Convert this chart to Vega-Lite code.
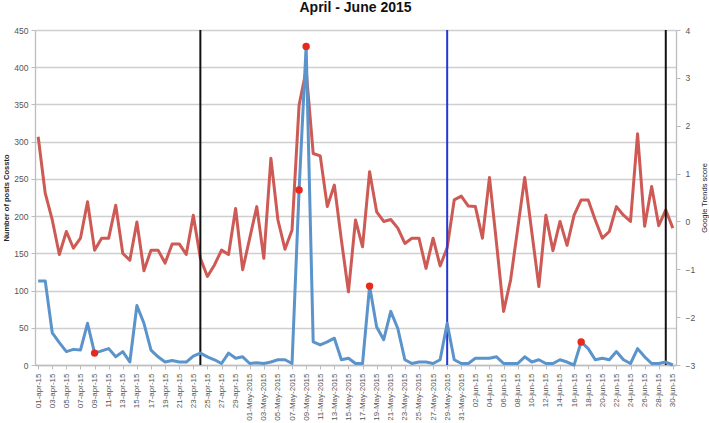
{
  "$schema": "https://vega.github.io/schema/vega-lite/v6.json",
  "width": 641,
  "height": 335,
  "autosize": {"type": "none"},
  "padding": {"left": 35, "top": 30, "right": 33, "bottom": 58},
  "title": {"text": "April - June 2015", "fontSize": 14, "fontWeight": "bold", "font": "Liberation Sans", "color": "#111111", "offset": 11, "anchor": "middle"},
  "config": {
    "font": "Liberation Sans",
    "view": {"stroke": null},
    "axis": {"labelColor": "#555555", "domainColor": "#bdbdbd", "tickColor": "#bdbdbd", "titleColor": "#222222"}
  },
  "datasets": {
    "main": [
      {"d": "01-apr-15", "posts": 113, "trends": 1.77},
      {"d": "02-apr-15", "posts": 113, "trends": 0.59},
      {"d": "03-apr-15", "posts": 43, "trends": 0.03},
      {"d": "04-apr-15", "posts": 30, "trends": -0.69},
      {"d": "05-apr-15", "posts": 18, "trends": -0.21},
      {"d": "06-apr-15", "posts": 21, "trends": -0.56},
      {"d": "07-apr-15", "posts": 20, "trends": -0.35},
      {"d": "08-apr-15", "posts": 56, "trends": 0.41},
      {"d": "09-apr-15", "posts": 16, "trends": -0.60},
      {"d": "10-apr-15", "posts": 19, "trends": -0.35},
      {"d": "11-apr-15", "posts": 22, "trends": -0.35},
      {"d": "12-apr-15", "posts": 11, "trends": 0.34},
      {"d": "13-apr-15", "posts": 18, "trends": -0.67},
      {"d": "14-apr-15", "posts": 4, "trends": -0.81},
      {"d": "15-apr-15", "posts": 80, "trends": -0.01},
      {"d": "16-apr-15", "posts": 56, "trends": -1.03},
      {"d": "17-apr-15", "posts": 20, "trends": -0.60},
      {"d": "18-apr-15", "posts": 11, "trends": -0.60},
      {"d": "19-apr-15", "posts": 4, "trends": -0.87},
      {"d": "20-apr-15", "posts": 6, "trends": -0.47},
      {"d": "21-apr-15", "posts": 4, "trends": -0.47},
      {"d": "22-apr-15", "posts": 4, "trends": -0.69},
      {"d": "23-apr-15", "posts": 12, "trends": 0.13},
      {"d": "24-apr-15", "posts": 16, "trends": -0.77},
      {"d": "25-apr-15", "posts": 11, "trends": -1.15},
      {"d": "26-apr-15", "posts": 7, "trends": -0.91},
      {"d": "27-apr-15", "posts": 2, "trends": -0.60},
      {"d": "28-apr-15", "posts": 16, "trends": -0.69},
      {"d": "29-apr-15", "posts": 9, "trends": 0.27},
      {"d": "30-apr-15", "posts": 11, "trends": -1.01},
      {"d": "01-May-2015", "posts": 2, "trends": -0.35},
      {"d": "02-May-2015", "posts": 3, "trends": 0.31},
      {"d": "03-May-2015", "posts": 2, "trends": -0.77},
      {"d": "04-May-2015", "posts": 4, "trends": 1.32},
      {"d": "05-May-2015", "posts": 7, "trends": 0.03},
      {"d": "06-May-2015", "posts": 7, "trends": -0.58},
      {"d": "07-May-2015", "posts": 2, "trends": -0.18},
      {"d": "08-May-2015", "posts": 235, "trends": 2.43},
      {"d": "09-May-2015", "posts": 428, "trends": 3.16},
      {"d": "10-May-2015", "posts": 31, "trends": 1.42},
      {"d": "11-May-2015", "posts": 27, "trends": 1.37},
      {"d": "12-May-2015", "posts": 31, "trends": 0.31},
      {"d": "13-May-2015", "posts": 36, "trends": 0.76},
      {"d": "14-May-2015", "posts": 7, "trends": -0.39},
      {"d": "15-May-2015", "posts": 9, "trends": -1.47},
      {"d": "16-May-2015", "posts": 2, "trends": 0.03},
      {"d": "17-May-2015", "posts": 2, "trends": -0.53},
      {"d": "18-May-2015", "posts": 106, "trends": 1.04},
      {"d": "19-May-2015", "posts": 51, "trends": 0.20},
      {"d": "20-May-2015", "posts": 34, "trends": 0.00},
      {"d": "21-May-2015", "posts": 72, "trends": 0.04},
      {"d": "22-May-2015", "posts": 49, "trends": -0.14},
      {"d": "23-May-2015", "posts": 7, "trends": -0.46},
      {"d": "24-May-2015", "posts": 2, "trends": -0.35},
      {"d": "25-May-2015", "posts": 4, "trends": -0.35},
      {"d": "26-May-2015", "posts": 4, "trends": -0.98},
      {"d": "27-May-2015", "posts": 2, "trends": -0.35},
      {"d": "28-May-2015", "posts": 7, "trends": -0.93},
      {"d": "29-May-2015", "posts": 56, "trends": -0.55},
      {"d": "30-May-2015", "posts": 7, "trends": 0.45},
      {"d": "31-May-2015", "posts": 2, "trends": 0.53},
      {"d": "01-jun-15", "posts": 2, "trends": 0.32},
      {"d": "02-jun-15", "posts": 9, "trends": 0.31},
      {"d": "03-jun-15", "posts": 9, "trends": -0.35},
      {"d": "04-jun-15", "posts": 9, "trends": 0.92},
      {"d": "05-jun-15", "posts": 11, "trends": -0.46},
      {"d": "06-jun-15", "posts": 2, "trends": -1.88},
      {"d": "07-jun-15", "posts": 2, "trends": -1.22},
      {"d": "08-jun-15", "posts": 2, "trends": -0.15},
      {"d": "09-jun-15", "posts": 11, "trends": 0.92},
      {"d": "10-jun-15", "posts": 4, "trends": -0.22},
      {"d": "11-jun-15", "posts": 7, "trends": -1.36},
      {"d": "12-jun-15", "posts": 2, "trends": 0.13},
      {"d": "13-jun-15", "posts": 2, "trends": -0.61},
      {"d": "14-jun-15", "posts": 7, "trends": 0.0},
      {"d": "15-jun-15", "posts": 4, "trends": -0.5},
      {"d": "16-jun-15", "posts": 0, "trends": 0.13},
      {"d": "17-jun-15", "posts": 31, "trends": 0.45},
      {"d": "18-jun-15", "posts": 22, "trends": 0.45},
      {"d": "19-jun-15", "posts": 7, "trends": 0.03},
      {"d": "20-jun-15", "posts": 9, "trends": -0.35},
      {"d": "21-jun-15", "posts": 7, "trends": -0.21},
      {"d": "22-jun-15", "posts": 18, "trends": 0.31},
      {"d": "23-jun-15", "posts": 7, "trends": 0.13},
      {"d": "24-jun-15", "posts": 2, "trends": 0.0},
      {"d": "25-jun-15", "posts": 22, "trends": 1.83},
      {"d": "26-jun-15", "posts": 11, "trends": -0.10},
      {"d": "27-jun-15", "posts": 2, "trends": 0.73},
      {"d": "28-jun-15", "posts": 2, "trends": -0.09},
      {"d": "29-jun-15", "posts": 4, "trends": 0.24},
      {"d": "30-jun-15", "posts": 0, "trends": -0.14}
    ],
    "rules": [
      {"d": "24-apr-15", "c": "#111111"},
      {"d": "29-May-2015", "c": "#2438d4"},
      {"d": "29-jun-15", "c": "#111111"}
    ],
    "dots": [
      {"d": "09-apr-15", "posts": 16},
      {"d": "08-May-2015", "posts": 235},
      {"d": "09-May-2015", "posts": 428},
      {"d": "18-May-2015", "posts": 106},
      {"d": "17-jun-15", "posts": 31}
    ]
  },
  "encoding": {
    "x": {
      "field": "d",
      "type": "ordinal",
      "sort": null,
      "scale": {
        "type": "point",
        "padding": 0.45,
        "domain": ["01-apr-15","02-apr-15","03-apr-15","04-apr-15","05-apr-15","06-apr-15","07-apr-15","08-apr-15","09-apr-15","10-apr-15","11-apr-15","12-apr-15","13-apr-15","14-apr-15","15-apr-15","16-apr-15","17-apr-15","18-apr-15","19-apr-15","20-apr-15","21-apr-15","22-apr-15","23-apr-15","24-apr-15","25-apr-15","26-apr-15","27-apr-15","28-apr-15","29-apr-15","30-apr-15","01-May-2015","02-May-2015","03-May-2015","04-May-2015","05-May-2015","06-May-2015","07-May-2015","08-May-2015","09-May-2015","10-May-2015","11-May-2015","12-May-2015","13-May-2015","14-May-2015","15-May-2015","16-May-2015","17-May-2015","18-May-2015","19-May-2015","20-May-2015","21-May-2015","22-May-2015","23-May-2015","24-May-2015","25-May-2015","26-May-2015","27-May-2015","28-May-2015","29-May-2015","30-May-2015","31-May-2015","01-jun-15","02-jun-15","03-jun-15","04-jun-15","05-jun-15","06-jun-15","07-jun-15","08-jun-15","09-jun-15","10-jun-15","11-jun-15","12-jun-15","13-jun-15","14-jun-15","15-jun-15","16-jun-15","17-jun-15","18-jun-15","19-jun-15","20-jun-15","21-jun-15","22-jun-15","23-jun-15","24-jun-15","25-jun-15","26-jun-15","27-jun-15","28-jun-15","29-jun-15","30-jun-15"]
      },
      "axis": {
        "title": null,
        "values": ["01-apr-15","03-apr-15","05-apr-15","07-apr-15","09-apr-15","11-apr-15","13-apr-15","15-apr-15","17-apr-15","19-apr-15","21-apr-15","23-apr-15","25-apr-15","27-apr-15","29-apr-15","01-May-2015","03-May-2015","05-May-2015","07-May-2015","09-May-2015","11-May-2015","13-May-2015","15-May-2015","17-May-2015","19-May-2015","21-May-2015","23-May-2015","25-May-2015","27-May-2015","29-May-2015","31-May-2015","02-jun-15","04-jun-15","06-jun-15","08-jun-15","10-jun-15","12-jun-15","14-jun-15","16-jun-15","18-jun-15","20-jun-15","22-jun-15","24-jun-15","26-jun-15","28-jun-15","30-jun-15"],
        "labelAngle": 270,
        "labelFontSize": 8,
        "labelOverlap": false,
        "labelPadding": 4,
        "tickSize": 4,
        "grid": false,
        "domainWidth": 1.3
      }
    }
  },
  "layer": [
    {
      "data": {"name": "main"},
      "mark": {"type": "line", "color": "#cd5a55", "strokeWidth": 3, "strokeJoin": "round"},
      "encoding": {
        "y": {
          "field": "trends",
          "type": "quantitative",
          "scale": {"domain": [-3, 4], "nice": false, "zero": false},
          "axis": {
            "orient": "right",
            "title": "Google Trends score",
            "titleAngle": 270,
            "titleBaseline": "top",
            "titleFontSize": 7.5,
            "titleFontWeight": "normal",
            "titlePadding": 6,
            "values": [-3, -2, -1, 0, 1, 2, 3, 4],
            "grid": false,
            "labelFontSize": 8.5,
            "labelPadding": 5,
            "tickSize": 4,
            "domainWidth": 1.3
          }
        }
      }
    },
    {
      "layer": [
        {
          "data": {"name": "rules"},
          "mark": {"type": "rule", "strokeWidth": 2},
          "encoding": {
            "color": {"field": "c", "type": "nominal", "scale": null, "legend": null}
          }
        },
        {
          "data": {"name": "main"},
          "mark": {"type": "line", "color": "#5b93cb", "strokeWidth": 3, "strokeJoin": "round"},
          "encoding": {
            "y": {
              "field": "posts",
              "type": "quantitative",
              "scale": {"domain": [0, 450], "nice": false},
              "axis": {
                "orient": "left",
                "title": "Number of posts Cossto",
                "titleFontSize": 7.5,
                "titleFontWeight": "bold",
                "titlePadding": 3,
                "values": [0, 50, 100, 150, 200, 250, 300, 350, 400, 450],
                "grid": true,
                "gridColor": "#cfcfcf",
                "gridWidth": 1.3,
                "labelFontSize": 8.5,
                "labelPadding": 3,
                "tickSize": 4,
                "domainWidth": 1.3
              }
            }
          }
        },
        {
          "data": {"name": "dots"},
          "mark": {"type": "circle", "color": "#e8291c", "size": 55, "opacity": 1},
          "encoding": {
            "y": {
              "field": "posts",
              "type": "quantitative",
              "scale": {"domain": [0, 450], "nice": false},
              "axis": {
                "orient": "left",
                "title": "Number of posts Cossto",
                "titleFontSize": 7.5,
                "titleFontWeight": "bold",
                "titlePadding": 3,
                "values": [0, 50, 100, 150, 200, 250, 300, 350, 400, 450],
                "grid": true,
                "gridColor": "#cfcfcf",
                "gridWidth": 1.3,
                "labelFontSize": 8.5,
                "labelPadding": 3,
                "tickSize": 4,
                "domainWidth": 1.3
              }
            }
          }
        }
      ]
    }
  ],
  "resolve": {"scale": {"y": "independent"}}
}
